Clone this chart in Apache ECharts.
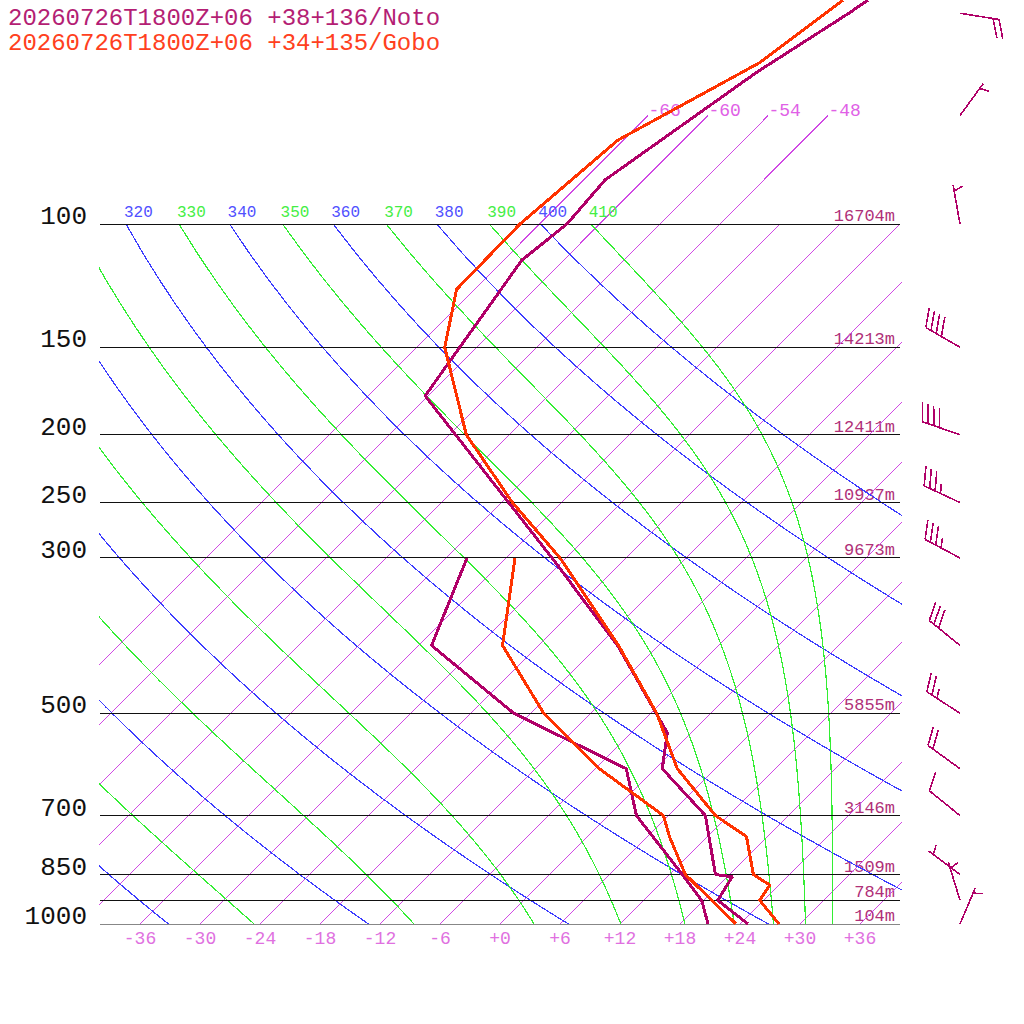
<!DOCTYPE html>
<html>
<head>
<meta charset="utf-8">
<script src="https://cdn.jsdelivr.net/npm/echarts@6/dist/echarts.min.js"></script>
<style>
html,body{margin:0;padding:0;background:#fff;}
#main{width:1024px;height:1024px;}
#main svg path{shape-rendering:crispEdges;}
</style>
</head>
<body>
<div id="main"></div>
<script>
// pressure levels with labels and standard heights
var levels = [1000, 925, 850, 700, 500, 300, 250, 200, 150, 100];
var heights = ['104m', '784m', '1509m', '3146m', '5855m', '9673m', '10937m', '12411m', '14213m', '16704m'];
var tempTicks = [-36, -30, -24, -18, -12, -6, 0, 6, 12, 18, 24, 30, 36];
var isotherms = [-66, -60, -54, -48, -42, -36, -30, -24, -18, -12, -6, 0, 6, 12, 18, 24, 30, 36];
var labelledIsotherms = [-66, -60, -54, -48];
var dryTheta = [240, 260, 280, 300, 320, 340, 360, 380, 400];
var moistThetaE = [250, 270, 290, 310, 330, 350, 370, 390, 410];

// Noto sounding
var notoP = [47.9, 50, 60.7, 86.5, 100, 112.6, 176, 300, 400, 533, 600, 700, 850, 856, 925, 1000];
var notoT = [-55.6, -56.2, -59.5, -63.9, -63.3, -64.2, -60.3, -31.4, -16.1, -2.4, 0.7, 9.7, 16.6, 18.5, 19.4, 24.8];
var notoDP = [300, 400, 500, 600, 700, 850, 925, 1000];
var notoTd = [-39.9, -34.7, -19.7, -2.9, 2.8, 13.3, 17.8, 20.8];

// Gobo sounding
var goboP = [47.9, 58.9, 75.9, 100, 124, 150, 200, 250, 300, 400, 500, 600, 700, 750, 850, 880, 925, 1000];
var goboT = [-58.1, -60.2, -66.6, -68.0, -67.8, -63.2, -52.3, -40.9, -30.6, -16.0, -5.4, 2.2, 10.7, 15.9, 20.4, 23.1, 23.6, 27.9];
var goboDP = [300, 400, 500, 600, 700, 750, 850, 925, 1000];
var goboTd = [-35.1, -27.6, -16.7, -5.6, 5.5, 8.2, 13.6, 18.8, 23.6];

// Noto winds (deg from, knots)
var windP = [50, 70, 100, 150, 200, 250, 300, 400, 500, 600, 700, 850, 925, 1000];
var windDir = [99, 36, 350, 300, 289, 295, 298, 309, 303, 306, 309, 307, 343, 23];
var windSpd = [20, 5, 5, 40, 40, 35, 35, 30, 25, 20, 10, 5, 5, 5];

var SKEW = 70;
var MONO = '"Liberation Mono", "DejaVu Sans Mono", monospace';
var NOTO = '#b00068', GOBO = '#ff3300';
var ISO = '#d048e4', DRY = '#3c3cff', WET = '#33ee33';

function lv(p) { return Math.log10(1000 / p); }
function pt(t, p) { return [t + SKEW * lv(p), lv(p)]; }

function thetaE(tk, p) {
	var tc = tk - 273.15;
	var es = 6.112 * Math.exp(17.67 * tc / (tc + 243.5));
	if (p - es < 1) return 1e9;
	var r = 622 * es / (p - es);
	return tk * Math.pow(1000 / p, 0.2854 * (1 - 0.00028 * r)) * Math.exp((3.376 / tk - 0.00254) * r * (1 + 0.00081 * r));
}
function moistT(te, p) {
	var lo = 150, hi = 330;
	for (var i = 0; i < 50; i++) {
		var mid = (lo + hi) / 2;
		if (thetaE(mid, p) > te) hi = mid; else lo = mid;
	}
	return (lo + hi) / 2 - 273.15;
}

var profP = [];
for (var pp = 1000; pp >= 100; pp -= 10) profP.push(pp);

var series = [];
var bgLabels = [];

function bgLine(data, color, width, z) {
	return {
		type: 'line', silent: true, showSymbol: false, z: z,
		color: color, itemStyle: {color: color},
		data: data, lineStyle: {color: color, width: width}
	};
}

// isobars
levels.forEach(function (p) {
	series.push(bgLine([[-40, lv(p)], [40, lv(p)]], '#111', 1, 3));
});

// isotherms, straight from 1000 hPa to their top level
isotherms.forEach(function (t) {
	var top = labelledIsotherms.indexOf(t) >= 0 ? 70 : 100;
	if (top == 70) {
		bgLabels.push({pos: pt(t, 70), text: '' + t, color: '#e060e6', size: 18, dx: 0, dy: -5});
	}
	series.push(bgLine([pt(t, 1000), pt(t, top)], ISO, 1.4, 2));
});

// dry adiabats
dryTheta.forEach(function (th) {
	var d = profP.map(function (p) { return pt(th * Math.pow(p / 1000, 0.2857) - 273.15, p); });
	series.push(bgLine(d, DRY, 1.2, 2));
	if (d[d.length - 1][0] > -40) {
		bgLabels.push({pos: d[d.length - 1], text: '' + th, color: '#5050ff', size: 16, dx: -2, dy: -11});
	}
});

// moist pseudo-adiabats (labelled by theta-e)
moistThetaE.forEach(function (te) {
	var d = profP.map(function (p) { return pt(moistT(te, p), p); });
	series.push(bgLine(d, WET, 1.2, 2));
	if (d[d.length - 1][0] > -40) {
		bgLabels.push({pos: d[d.length - 1], text: '' + te, color: '#44ee44', size: 16, dx: -2, dy: -11});
	}
});

// labels for background lines
series.push({
	type: 'custom', clip: true, silent: true, z: 4,
	data: bgLabels.map(function (l) { return l.pos; }),
	renderItem: function (params, api) {
		var l = bgLabels[params.dataIndex];
		var c = api.coord([api.value(0), api.value(1)]);
		return {
			type: 'text', x: c[0] + l.dx, y: c[1] + l.dy,
			style: {text: l.text, fill: l.color, fontFamily: MONO, fontSize: l.size, align: 'left', verticalAlign: 'middle'}
		};
	}
});

function profile(ps, ts, color) {
	return {
		type: 'line', silent: true, showSymbol: false, z: 6,
		color: color,
		data: ps.map(function (p, i) { return pt(ts[i], p); }),
		lineStyle: {color: color, width: 3}
	};
}
series.push(profile(notoP, notoT, NOTO));
series.push(profile(notoDP, notoTd, NOTO));
series.push(profile(goboP, goboT, GOBO));
series.push(profile(goboDP, goboTd, GOBO));

// wind barbs
series.push({
	type: 'custom', clip: false, silent: true, z: 7,
	data: windP.map(function (p, i) { return [46, lv(p), windSpd[i], windDir[i]]; }),
	renderItem: function (params, api) {
		var base = api.coord([api.value(0), api.value(1)]);
		var spd = api.value(2), dir = api.value(3) * Math.PI / 180;
		var dx = Math.sin(dir), dy = -Math.cos(dir);
		var px = -dy, py = dx;
		var bx = 0.342 * dx + 0.94 * px, by = 0.342 * dy + 0.94 * py;
		var L = 39.5, sp = 6;
		var tip = [base[0] + dx * L, base[1] + dy * L];
		var st = {stroke: NOTO, lineWidth: 1.6};
		var kids = [{type: 'line', shape: {x1: base[0], y1: base[1], x2: tip[0], y2: tip[1]}, style: st}];
		var full = Math.floor(spd / 10), half = (spd % 10) >= 5;
		var k = 0;
		for (; k < full; k++) {
			var s0 = [tip[0] - dx * sp * k, tip[1] - dy * sp * k];
			kids.push({type: 'line', shape: {x1: s0[0], y1: s0[1], x2: s0[0] + bx * 19.5, y2: s0[1] + by * 19.5}, style: st});
		}
		if (half) {
			if (full == 0) k = 1;
			var s1 = [tip[0] - dx * sp * k, tip[1] - dy * sp * k];
			kids.push({type: 'line', shape: {x1: s1[0], y1: s1[1], x2: s1[0] + bx * 9.5, y2: s1[1] + by * 9.5}, style: st});
		}
		return {type: 'group', children: kids};
	}
});

function levelIndex(v) {
	for (var i = 0; i < levels.length; i++) {
		if (Math.abs(lv(levels[i]) - v) < 1e-6) return i;
	}
	return -1;
}

var option = {
	backgroundColor: '#ffffff',
	animation: false,
	grid: {left: 100, right: 124, top: 0, bottom: 100},
	xAxis: {
		type: 'value', min: -40, max: 40,
		axisLine: {show: false}, axisTick: {show: false}, splitLine: {show: false},
		axisLabel: {
			customValues: tempTicks,
			formatter: function (v) { return (v >= 0 ? '+' : '') + v; },
			color: '#e070e0', fontFamily: MONO, fontSize: 18, margin: 6
		}
	},
	yAxis: [{
		type: 'value', min: 0, max: 1.32,
		axisLine: {show: false}, axisTick: {show: false}, splitLine: {show: false},
		axisLabel: {
			customValues: levels.map(lv),
			showMinLabel: true, showMaxLabel: true, hideOverlap: false,
			formatter: function (v) { var i = levelIndex(v); return i < 0 ? '' : '' + levels[i]; },
			color: '#111', fontFamily: MONO, fontSize: 26, margin: 13,
			verticalAlign: 'bottom', lineHeight: 14
		}
	}, {
		type: 'value', min: 0, max: 1.32, position: 'right',
		axisLine: {show: false}, axisTick: {show: false}, splitLine: {show: false},
		axisLabel: {
			inside: true,
			customValues: levels.map(lv),
			showMinLabel: true, showMaxLabel: true, hideOverlap: false,
			formatter: function (v) { var i = levelIndex(v); return i < 0 ? '' : heights[i]; },
			color: '#b03078', fontFamily: MONO, fontSize: 17, margin: 5,
			verticalAlign: 'bottom', lineHeight: 15
		}
	}],
	graphic: [{
		type: 'text', x: 8, y: 18,
		style: {text: '20260726T1800Z+06 +38+136/Noto', fill: '#b41e74', fontFamily: MONO, fontSize: 24, lineHeight: 20, verticalAlign: 'middle'}
	}, {
		type: 'text', x: 8, y: 43,
		style: {text: '20260726T1800Z+06 +34+135/Gobo', fill: '#ff4020', fontFamily: MONO, fontSize: 24, lineHeight: 20, verticalAlign: 'middle'}
	}],
	series: series
};

var myChart = echarts.init(document.getElementById('main'), null, {renderer: 'svg'});
myChart.setOption(option);
window.addEventListener('resize', function () {
	myChart.resize();
});
</script>
</body>
</html>
